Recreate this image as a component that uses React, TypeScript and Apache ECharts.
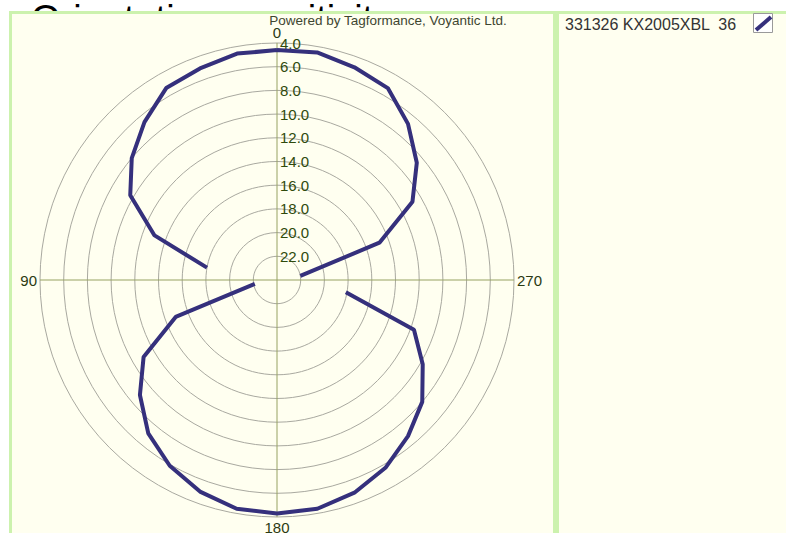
import React, { useEffect, useRef } from "react";
import * as echarts from "echarts";

// Orientation angles (degrees) and measured sensitivity values (dBm)
const angles: number[] = [
  0, 10, 20, 30, 40, 50, 60, 70, 80, 90, 100, 110, 120, 130, 140, 150, 160, 170,
  180, 190, 200, 210, 220, 230, 240, 250, 260, 270, 280, 290, 300, 310, 320, 330,
  340, 350, 360,
];
const sensitivity: (number | null)[] = [
  4.6, 4.6, 5.0, 5.3, 6.6, 8.0, 9.7, 13.0, 18.0, null, 22.1, 14.9, 11.0, 8.9, 7.1,
  5.9, 5.0, 4.4, 4.3, 4.4, 4.9, 5.7, 6.8, 8.0, 9.8, 11.7, 18.1, null, 22.0, 14.8,
  10.8, 8.6, 6.8, 5.3, 4.9, 4.5, 4.6,
];
const angleTicks: number[] = [0, 90, 180, 270];
const seriesName = "331326 KX2005XBL  36";
const titleText = "Orientation sensitivity";
const creditText = "Powered by Tagformance, Voyantic Ltd.";

const FONT = "'Liberation Sans', Arial, sans-serif";
const LINE_COLOR = "#35307c";

export default function App() {
  const ref = useRef<HTMLDivElement>(null);

  useEffect(() => {
    if (!ref.current) return;
    const chart = echarts.init(ref.current, undefined, { renderer: "svg" });
    const data = angles.map((a, i) => [
      sensitivity[i] === null ? "-" : sensitivity[i],
      a,
    ]);
    chart.setOption({
      animation: false,
      backgroundColor: "#ffffff",
      graphic: [
        {
          type: "text",
          z: -20,
          style: {
            text: titleText,
            x: 31,
            y: 19,
            fill: "#000000",
            font: `38px ${FONT}`,
            verticalAlign: "middle",
            align: "left",
          },
        },
        {
          type: "rect",
          z: -10,
          shape: { x: 10.5, y: 12.5, width: 544, height: 540 },
          style: { fill: "#FFFFF0", stroke: "#ccf2ae", lineWidth: 3 },
        },
        {
          type: "rect",
          z: -10,
          shape: { x: 557.5, y: 12.5, width: 240, height: 540 },
          style: { fill: "#FFFFF0", stroke: "#ccf2ae", lineWidth: 3 },
        },
        {
          type: "text",
          z: 5,
          style: {
            text: creditText,
            x: 388,
            y: 20,
            fill: "#3e4630",
            font: `13.5px ${FONT}`,
            verticalAlign: "middle",
            align: "center",
          },
        },
        {
          type: "text",
          z: 5,
          style: {
            text: seriesName,
            x: 565,
            y: 24,
            fill: "#333333",
            font: `16px ${FONT}`,
            verticalAlign: "middle",
            align: "left",
          },
        },
        {
          type: "rect",
          z: 5,
          shape: { x: 753.5, y: 13.5, width: 19, height: 19 },
          style: { fill: "#ffffff", stroke: "#9a9a9a", lineWidth: 1 },
        },
        {
          type: "line",
          z: 6,
          shape: { x1: 756, y1: 30, x2: 771, y2: 17 },
          style: { stroke: LINE_COLOR, lineWidth: 4 },
        },
      ],
      polar: { center: [277, 280], radius: 237 },
      angleAxis: {
        type: "value",
        min: 0,
        max: 360,
        interval: 90,
        startAngle: 90,
        clockwise: false,
        axisLine: { show: false },
        axisTick: { show: false },
        axisLabel: {
          margin: 3,
          color: "#2b3a12",
          fontSize: 15,
          fontFamily: FONT,
          formatter: (v: number) => (angleTicks.includes(v) ? String(v) : ""),
        },
        splitLine: { show: true, lineStyle: { color: "#97a263", width: 1 } },
      },
      radiusAxis: {
        type: "value",
        min: 4,
        max: 24,
        interval: 2,
        inverse: true,
        axisLine: { show: false },
        axisTick: { show: false },
        axisLabel: {
          margin: -3,
          align: "left",
          color: "#2f4a0c",
          fontSize: 15,
          fontFamily: FONT,
          formatter: (v: number) => (v >= 24 ? "" : v.toFixed(1)),
        },
        splitLine: { show: true, lineStyle: { color: "#a9a9a0", width: 1 } },
      },
      series: [
        {
          name: seriesName,
          type: "line",
          coordinateSystem: "polar",
          data,
          symbol: "none",
          connectNulls: false,
          lineStyle: { color: LINE_COLOR, width: 4 },
          z: 3,
        },
      ],
    });
    return () => chart.dispose();
  }, []);

  return (
    <div
      ref={ref}
      style={{ position: "fixed", left: 0, top: 0, width: 786, height: 533 }}
    />
  );
}
